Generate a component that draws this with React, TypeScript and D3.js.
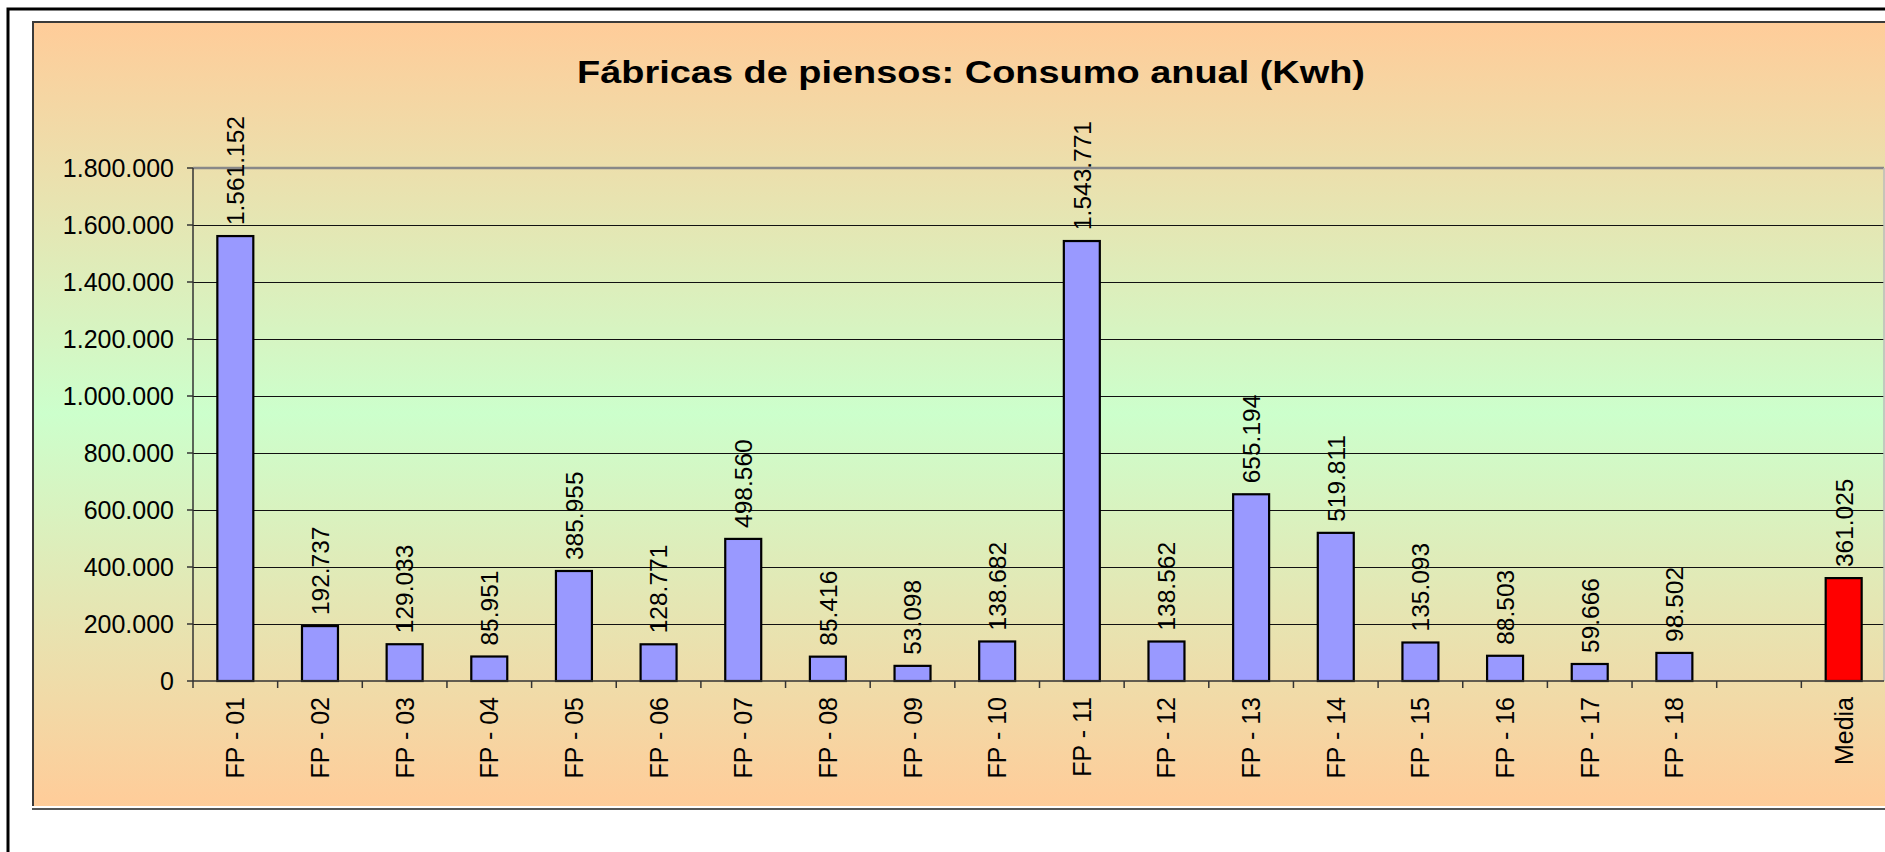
import React, { useEffect, useRef } from 'react';
import * as d3 from 'd3';

// Datos
const categories: string[] = [
  'FP - 01', 'FP - 02', 'FP - 03', 'FP - 04', 'FP - 05', 'FP - 06', 'FP - 07', 'FP - 08', 'FP - 09',
  'FP - 10', 'FP - 11', 'FP - 12', 'FP - 13', 'FP - 14', 'FP - 15', 'FP - 16', 'FP - 17', 'FP - 18',
  '', 'Media',
];
const consumo: (number | null)[] = [
  1561152, 192737, 129033, 85951, 385955, 128771, 498560, 85416, 53098,
  138682, 1543771, 138562, 655194, 519811, 135093, 88503, 59666, 98502,
  null, 361025,
];
const yTicks: number[] = [0, 200000, 400000, 600000, 800000, 1000000, 1200000, 1400000, 1600000, 1800000];
const title = 'Fábricas de piensos: Consumo anual (Kwh)';

const W = 1885;
const H = 852;
const FONT = '"Liberation Sans", Arial, sans-serif';

const es = d3.formatLocale({ decimal: ',', thousands: '.', grouping: [3], currency: ['', ' €'] });
const fmt = es.format(',d');

const App = () => {
  const svgRef = useRef<SVGSVGElement | null>(null);

  useEffect(() => {
    const svg = d3.select(svgRef.current);
    svg.selectAll('*').remove();

    // --- fondo con degradado naranja -> verde -> naranja ---
    const defs = svg.append('defs');
    const grad = defs.append('linearGradient').attr('id', 'bg').attr('x1', 0).attr('y1', 0).attr('x2', 0).attr('y2', 1);
    grad.append('stop').attr('offset', '0%').attr('stop-color', '#FFCC99');
    grad.append('stop').attr('offset', '50%').attr('stop-color', '#CCFFCC');
    grad.append('stop').attr('offset', '100%').attr('stop-color', '#FFCC99');

    // marco exterior
    svg.append('rect')
      .attr('x', 8).attr('y', 9).attr('width', W + 20).attr('height', H + 20)
      .style('fill', '#fff').style('stroke', '#000').style('stroke-width', 3);

    // área del gráfico
    const chartTop = 21, chartLeft = 32, chartBottom = 806;
    svg.append('rect')
      .attr('x', chartLeft).attr('y', chartTop).attr('width', W - chartLeft + 30).attr('height', chartBottom - chartTop)
      .style('fill', 'url(#bg)');
    svg.append('path')
      .attr('d', `M${chartLeft + 1},${chartBottom} V${chartTop + 1} H${W + 10}`)
      .style('fill', 'none').style('stroke', '#3a3a3a').style('stroke-width', 2);
    svg.append('line')
      .attr('x1', chartLeft).attr('x2', W + 10).attr('y1', chartBottom + 1).attr('y2', chartBottom + 1)
      .style('stroke', '#fff').style('stroke-width', 2);
    svg.append('line')
      .attr('x1', chartLeft).attr('x2', W + 10).attr('y1', chartBottom + 3).attr('y2', chartBottom + 3)
      .style('stroke', '#555').style('stroke-width', 2);

    // --- escalas ---
    const plotLeft = 193, plotTop = 168, plotBottom = 681;
    const step = 84.65;
    const x = d3.scaleBand<string>()
      .domain(categories.map((c, i) => `${i}`))
      .range([plotLeft, plotLeft + step * categories.length])
      .paddingInner(0.575)
      .paddingOuter(0.2875);
    const y = d3.scaleLinear().domain([0, 1800000]).range([plotBottom, plotTop]);
    const plotRight = plotLeft + step * categories.length - 2;

    // título
    svg.append('text')
      .attr('x', 577).attr('y', 83)
      .attr('textLength', 788).attr('lengthAdjust', 'spacingAndGlyphs')
      .style('font-family', FONT).style('font-size', '32px').style('font-weight', 'bold')
      .style('fill', '#000')
      .text(title);

    // líneas de división
    svg.append('g').selectAll('line')
      .data(yTicks.filter(t => t > 0 && t < 1800000))
      .enter().append('line')
      .attr('x1', plotLeft).attr('x2', plotRight)
      .attr('y1', d => Math.round(y(d)) + 0.5).attr('y2', d => Math.round(y(d)) + 0.5)
      .style('stroke', '#111').style('stroke-width', 1);

    // borde superior y derecho del área de trazado
    svg.append('line')
      .attr('x1', plotLeft).attr('x2', plotRight).attr('y1', y(1800000)).attr('y2', y(1800000))
      .style('stroke', '#888').style('stroke-width', 2.5);
    svg.append('line')
      .attr('x1', plotRight).attr('x2', plotRight).attr('y1', plotTop).attr('y2', plotBottom)
      .style('stroke', '#bbb').style('stroke-width', 1.5);

    // eje Y
    const yAxis = svg.append('g');
    yAxis.append('line')
      .attr('x1', plotLeft).attr('x2', plotLeft).attr('y1', plotTop).attr('y2', plotBottom)
      .style('stroke', '#333').style('stroke-width', 1.5);
    yAxis.selectAll('line.tick')
      .data(yTicks).enter().append('line').attr('class', 'tick')
      .attr('x1', plotLeft - 6).attr('x2', plotLeft)
      .attr('y1', d => y(d)).attr('y2', d => y(d))
      .style('stroke', '#333').style('stroke-width', 1.5);
    yAxis.selectAll('text')
      .data(yTicks).enter().append('text')
      .attr('x', 174).attr('y', d => y(d)).attr('dy', '0.36em')
      .attr('text-anchor', 'end')
      .style('font-family', FONT).style('font-size', '25px').style('fill', '#000')
      .text(d => fmt(d));

    // barras
    const bars = svg.append('g');
    categories.forEach((c, i) => {
      const v = consumo[i];
      if (v == null) return;
      const bx = x(`${i}`) as number;
      bars.append('rect')
        .attr('x', bx).attr('y', y(v))
        .attr('width', x.bandwidth()).attr('height', plotBottom - y(v))
        .style('fill', c === 'Media' ? '#FF0000' : '#9999FF')
        .style('stroke', '#000').style('stroke-width', 2.2);
      bars.append('text')
        .attr('transform', `translate(${bx + x.bandwidth() / 2}, ${y(v) - 11}) rotate(-90)`)
        .attr('dy', '0.36em')
        .attr('text-anchor', 'start')
        .style('font-family', FONT).style('font-size', '24.5px').style('fill', '#000')
        .text(fmt(v));
    });

    // eje X
    const xAxis = svg.append('g');
    xAxis.append('line')
      .attr('x1', plotLeft).attr('x2', plotRight).attr('y1', plotBottom).attr('y2', plotBottom)
      .style('stroke', '#333').style('stroke-width', 1.5);
    xAxis.selectAll('line.tick')
      .data(d3.range(categories.length + 1)).enter().append('line').attr('class', 'tick')
      .attr('x1', i => plotLeft + i * x.step()).attr('x2', i => plotLeft + i * x.step())
      .attr('y1', plotBottom).attr('y2', plotBottom + 7)
      .style('stroke', '#333').style('stroke-width', 1.5);
    xAxis.selectAll('text')
      .data(categories.map((c, i) => ({ c, i })).filter(d => d.c !== '')).enter().append('text')
      .attr('transform', d => `translate(${(x(`${d.i}`) as number) + x.bandwidth() / 2}, ${plotBottom + 16}) rotate(-90)`)
      .attr('dy', '0.36em')
      .attr('text-anchor', 'end')
      .style('font-family', FONT).style('font-size', '25px').style('fill', '#000')
      .text(d => d.c);
  }, []);

  return (
    <svg ref={svgRef} width={W} height={H}
      style={{ position: 'absolute', left: 0, top: 0, display: 'block', background: '#fff' }} />
  );
};

export default App;
